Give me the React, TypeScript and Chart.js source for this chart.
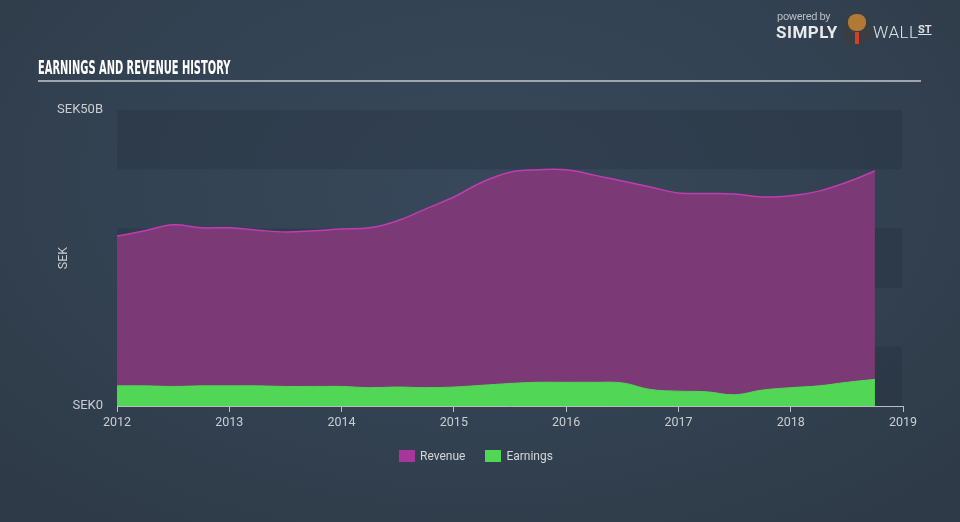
import React, { useEffect, useRef } from "react";
import { Chart, registerables } from "chart.js";

Chart.register(...registerables);

// ---- data ----
const quarters = [
  2012, 2012.25, 2012.5, 2012.75,
  2013, 2013.25, 2013.5, 2013.75,
  2014, 2014.25, 2014.5, 2014.75,
  2015, 2015.25, 2015.5, 2015.75,
  2016, 2016.25, 2016.5, 2016.75,
  2017, 2017.25, 2017.5, 2017.75,
  2018, 2018.25, 2018.5, 2018.75,
];
// SEK billions
const revenue = [
  28.7, 29.6, 30.6, 30.1,
  30.1, 29.7, 29.4, 29.6,
  29.9, 30.1, 31.3, 33.3,
  35.3, 37.8, 39.5, 39.9,
  39.9, 39.0, 38.0, 37.0,
  36.0, 35.9, 35.8, 35.3,
  35.5, 36.3, 37.8, 39.7,
];
const earnings = [
  3.4, 3.4, 3.3, 3.4,
  3.4, 3.4, 3.3, 3.3,
  3.3, 3.1, 3.2, 3.1,
  3.2, 3.5, 3.8, 4.0,
  4.0, 4.0, 3.9, 2.8,
  2.5, 2.4, 1.9, 2.7,
  3.1, 3.4, 4.0, 4.5,
];
const xTickYears = [2012, 2013, 2014, 2015, 2016, 2017, 2018, 2019];
const yTickValues = [0, 50];
const yTickLabels = ["SEK0", "SEK50B"];
const bandRanges = [
  [40, 50],
  [20, 30],
  [0, 10],
];
const seriesNames = ["Revenue", "Earnings"];

const REV_FILL = "#7b3a76";
const REV_LINE = "#c03cb0";
const EARN_FILL = "#52d655";
const AXIS_COLOR = "#b8bec6";
const LABEL_COLOR = "#c9ced4";

const bandsPlugin = {
  id: "bands",
  beforeDatasetsDraw(chart: any) {
    const { ctx, chartArea, scales } = chart;
    const y = scales.y;
    ctx.save();
    ctx.fillStyle = "rgba(28,38,50,0.22)";
    for (const [lo, hi] of bandRanges) {
      const top = y.getPixelForValue(hi);
      const bot = y.getPixelForValue(lo);
      ctx.fillRect(chartArea.left, top, chartArea.right - chartArea.left - 1, bot - top);
    }
    ctx.restore();
  },
};

export default function App() {
  const canvasRef = useRef<HTMLCanvasElement | null>(null);

  useEffect(() => {
    const canvas = canvasRef.current;
    if (!canvas) return;
    const chart = new Chart(canvas, {
      type: "line",
      data: {
        datasets: [
          {
            label: seriesNames[0],
            data: quarters.map((q, i) => ({ x: q, y: revenue[i] })),
            borderColor: REV_LINE,
            backgroundColor: REV_FILL,
            borderWidth: 1.5,
            fill: "origin",
            pointRadius: 0,
            tension: 0.4,
            order: 2,
          },
          {
            label: seriesNames[1],
            data: quarters.map((q, i) => ({ x: q, y: earnings[i] })),
            borderColor: EARN_FILL,
            backgroundColor: EARN_FILL,
            borderWidth: 1,
            fill: "origin",
            pointRadius: 0,
            tension: 0.4,
            order: 1,
          },
        ],
      },
      options: {
        responsive: false,
        animation: false,
        devicePixelRatio: 1,
        layout: { padding: { left: 0, top: 110, right: 57, bottom: 86 } },
        plugins: {
          legend: { display: false },
          tooltip: { enabled: false },
        },
        scales: {
          x: {
            type: "linear",
            min: 2012,
            max: 2019,
            afterBuildTicks: (scale: any) => {
              scale.ticks = xTickYears.map((v) => ({ value: v }));
            },
            afterFit: (scale: any) => {
              scale.height = 30;
            },
            ticks: {
              color: LABEL_COLOR,
              font: { family: "Roboto", size: 12.5 },
              padding: 3,
              maxRotation: 0,
              callback: (v: any) => String(v),
            },
            grid: {
              display: true,
              drawOnChartArea: false,
              drawTicks: true,
              tickLength: 6,
              color: AXIS_COLOR,
            },
            border: { display: true, color: AXIS_COLOR, width: 1 },
          },
          y: {
            type: "linear",
            min: 0,
            max: 50,
            afterBuildTicks: (scale: any) => {
              scale.ticks = yTickValues.map((v) => ({ value: v }));
            },
            afterFit: (scale: any) => {
              scale.width = 117;
            },
            ticks: {
              color: LABEL_COLOR,
              font: { family: "Roboto", size: 13 },
              padding: 14,
              callback: (v: any) => {
                const i = yTickValues.indexOf(Number(v));
                return i >= 0 ? yTickLabels[i] : "";
              },
            },
            grid: { display: false, drawTicks: false },
            border: { display: false },
            title: {
              display: true,
              text: "SEK",
              color: LABEL_COLOR,
              font: { family: "Roboto", size: 12.5 },
              padding: { top: 56, bottom: 0 },
            },
          },
        },
      },
      plugins: [bandsPlugin],
    });
    return () => chart.destroy();
  }, []);

  return (
    <div
      style={{
        position: "absolute",
        left: 0,
        top: 0,
        width: 960,
        height: 522,
        overflow: "hidden",
        background:
          "radial-gradient(ellipse 70% 80% at 50% 35%, #37485a 0%, #334252 55%, #2e3a47 100%)",
        fontFamily: "Roboto, sans-serif",
      }}
    >
      <canvas
        ref={canvasRef}
        width={960}
        height={522}
        style={{ position: "absolute", left: 0, top: 0, width: 960, height: 522 }}
      />
      {/* title */}
      <div
        style={{
          position: "absolute",
          left: 38,
          top: 57,
          whiteSpace: "nowrap",
          color: "#ffffff",
          fontFamily: "'Liberation Sans Narrow', 'DejaVu Sans Condensed', sans-serif",
          fontWeight: 700,
          fontSize: 20,
          lineHeight: "20px",
          transform: "scaleX(0.55)",
          transformOrigin: "left top",
          letterSpacing: 0,
        }}
      >
        EARNINGS AND REVENUE HISTORY
      </div>
      <div
        style={{
          position: "absolute",
          left: 38,
          top: 80,
          width: 883,
          height: 2,
          background: "#9ea5ad",
        }}
      />
      {/* logo */}
      <div
        style={{
          position: "absolute",
          left: 777,
          top: 11,
          fontSize: 11,
          color: "#b9bec5",
          letterSpacing: -0.3,
          lineHeight: "12px",
        }}
      >
        powered by
      </div>
      <div
        style={{
          position: "absolute",
          left: 776,
          top: 23,
          fontSize: 17,
          fontWeight: 700,
          color: "#e8eaed",
          lineHeight: "18px",
          letterSpacing: 0.5,
        }}
      >
        SIMPLY
      </div>
      <div
        style={{
          position: "absolute",
          left: 843,
          top: 14,
          width: 28,
          height: 32,
          borderRadius: "50%",
          background: "#3a3d42",
        }}
      >
        <div
          style={{
            position: "absolute",
            left: 5,
            top: 0,
            width: 18,
            height: 17,
            borderRadius: "45%",
            background: "#b07a34",
          }}
        />
        <div
          style={{
            position: "absolute",
            left: 12,
            top: 18,
            width: 4,
            height: 12,
            background: "#d0402a",
          }}
        />
      </div>
      <div
        style={{
          position: "absolute",
          left: 873,
          top: 23,
          fontSize: 17,
          fontWeight: 300,
          color: "#dfe2e6",
          lineHeight: "18px",
          letterSpacing: 0.5,
        }}
      >
        WALL
      </div>
      <div
        style={{
          position: "absolute",
          left: 918,
          top: 24,
          fontSize: 11,
          fontWeight: 700,
          color: "#dfe2e6",
          lineHeight: "12px",
          textDecoration: "underline",
        }}
      >
        ST
      </div>
      {/* legend */}
      <div
        style={{
          position: "absolute",
          left: 399,
          top: 449,
          display: "flex",
          alignItems: "center",
          fontSize: 12,
          color: "#d3d7dc",
          lineHeight: "14px",
        }}
      >
        <span style={{ width: 16, height: 12, background: "#a8379c", display: "inline-block" }} />
        <span style={{ marginLeft: 5 }}>{seriesNames[0]}</span>
        <span
          style={{
            width: 16,
            height: 12,
            background: EARN_FILL,
            display: "inline-block",
            marginLeft: 20,
          }}
        />
        <span style={{ marginLeft: 5 }}>{seriesNames[1]}</span>
      </div>
    </div>
  );
}
